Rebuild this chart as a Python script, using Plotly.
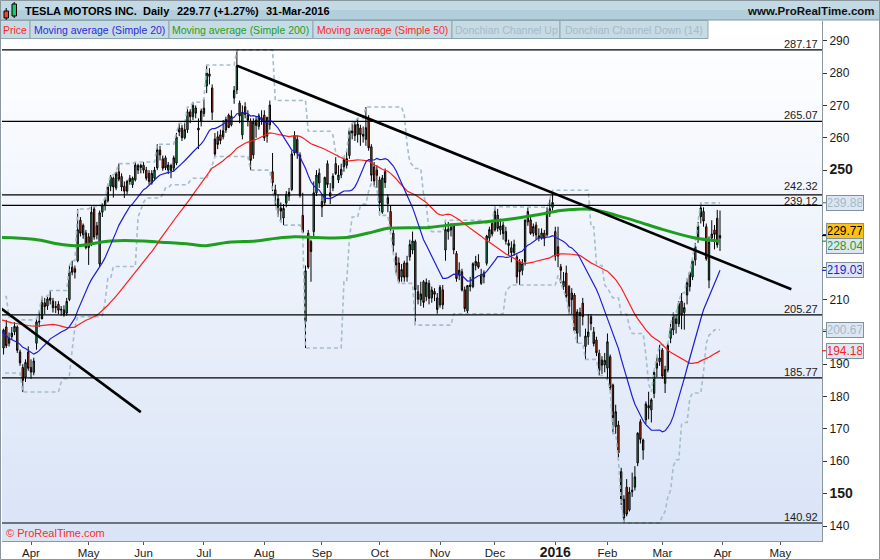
import numpy as np
import pandas as pd
import plotly.graph_objects as go

# ---------------- data ----------------
# closes before the first OHLC bar (warm-up for the moving averages), 2 Jan - 20 Feb 2015
warmup_closes = [219.31, 210.09, 211.28, 210.95, 210.62, 206.66, 202.21, 204.25, 192.69, 191.87,
                 193.07, 191.93, 196.57, 201.62, 201.29, 206.55, 205.98, 199.37, 205.20, 203.60,
                 210.94, 218.36, 218.55, 220.99, 217.36, 217.48, 216.29, 212.80, 202.88, 203.77,
                 204.35, 204.46, 211.71, 217.11]

# daily (open, high, low, close)
ohlc_2015_02 = [(215.5, 216.0, 205.5, 207.34), (207.0, 209.8, 204.5, 207.19), (206.6, 207.9, 202.5, 204.11),
                (204.0, 207.0, 201.4, 203.76), (203.5, 206.6, 202.1, 203.34)]
ohlc_2015_03 = [(203.0, 210.9, 196.5, 197.33), (197.5, 200.9, 195.0, 199.56), (200.0, 204.6, 198.5, 202.44),
                (202.8, 204.0, 199.4, 200.63), (199.2, 200.8, 192.8, 193.88), (194.4, 194.5, 188.6, 190.88),
                (188.5, 193.5, 187.5, 190.32), (191.2, 195.0, 189.9, 193.74), (193.8, 194.4, 189.7, 191.07),
                (188.9, 191.8, 187.3, 188.68), (191.0, 196.5, 190.1, 195.74), (195.4, 196.5, 193.3, 194.73),
                (195.0, 201.0, 193.0, 200.60), (201.5, 203.7, 195.0, 195.70), (196.5, 199.8, 195.5, 198.08),
                (198.5, 201.5, 197.5, 199.63), (200.0, 203.0, 199.0, 201.72), (201.5, 202.0, 193.5, 194.30),
                (193.8, 194.5, 189.5, 190.41), (189.0, 190.0, 181.4, 185.00), (186.0, 191.5, 184.5, 190.57),
                (193.8, 195.5, 188.0, 188.77)]
ohlc_2015_04 = [(189.0, 191.5, 185.5, 187.59), (187.5, 192.0, 186.6, 191.00), (196.5, 204.0, 194.5, 203.10),
                (203.0, 206.5, 201.5, 203.25), (204.0, 210.9, 204.8, 209.00), (209.0, 210.5, 205.5, 207.80),
                (208.0, 211.0, 206.8, 210.20), (210.5, 212.8, 208.5, 209.78), (209.5, 210.5, 206.0, 207.46),
                (207.5, 209.5, 205.8, 207.83), (208.5, 209.5, 205.5, 206.70), (207.0, 208.0, 205.0, 206.79),
                (206.8, 208.2, 204.7, 205.27), (205.8, 210.5, 205.0, 209.41), (210.0, 220.5, 209.5, 218.63),
                (220.0, 222.0, 217.5, 218.43), (219.5, 220.5, 216.5, 218.43), (222.0, 238.0, 221.5, 231.55),
                (234.5, 235.5, 229.5, 230.51), (230.0, 233.5, 228.8, 232.95), (230.6, 231.5, 225.5, 226.05)]
ohlc_2015_05 = [(229.4, 230.5, 220.7, 226.03), (227.0, 238.8, 226.5, 237.00), (238.0, 238.6, 228.5, 229.30),
                (232.8, 234.0, 228.6, 230.00), (221.0, 237.5, 220.2, 236.80), (237.0, 239.8, 235.5, 239.20),
                (239.0, 241.5, 237.5, 240.70), (240.5, 245.5, 240.0, 244.80), (245.0, 248.5, 243.5, 247.90),
                (247.5, 248.0, 241.5, 244.80), (244.5, 249.5, 243.8, 248.84), (249.5, 252.0, 246.5, 247.20),
                (248.0, 249.0, 243.5, 244.80), (245.0, 246.5, 241.4, 243.50), (243.5, 247.0, 242.5, 246.50),
                (247.5, 248.5, 245.5, 246.50), (245.5, 248.0, 244.5, 247.50), (247.0, 252.5, 246.5, 251.60),
                (250.0, 252.0, 248.8, 251.45), (251.5, 252.0, 249.0, 250.80)]
ohlc_2015_06 = [(251.5, 252.5, 249.0, 250.00), (250.0, 251.0, 246.8, 247.50), (249.0, 250.0, 245.5, 246.50),
                (246.0, 250.0, 245.5, 249.00), (247.5, 251.0, 246.8, 250.00), (250.7, 258.0, 250.0, 256.30),
                (256.2, 257.5, 253.0, 254.70), (253.5, 254.5, 249.8, 250.60), (253.8, 254.5, 250.0, 250.70),
                (250.0, 252.5, 248.8, 251.60), (249.8, 252.0, 247.5, 251.40), (250.6, 254.5, 249.5, 253.80),
                (252.2, 261.5, 251.5, 260.20), (263.0, 264.5, 260.5, 261.80), (263.0, 264.0, 259.0, 260.00),
                (260.0, 264.5, 259.5, 262.51), (262.5, 269.5, 261.5, 268.00), (268.0, 268.8, 264.5, 266.50),
                (266.5, 271.0, 265.5, 270.00), (269.2, 270.0, 266.0, 267.60), (263.0, 266.0, 256.5, 262.40),
                (265.0, 269.0, 263.5, 268.26)]
ohlc_2015_07 = [(267.5, 272.0, 266.5, 269.15), (276.0, 282.5, 273.8, 280.02), (279.0, 281.5, 276.5, 279.72),
                (275.4, 276.5, 265.5, 267.88), (259.6, 261.5, 254.2, 254.96), (260.3, 262.0, 256.5, 257.92),
                (260.9, 262.5, 258.0, 259.15), (260.3, 265.5, 259.5, 262.16), (262.4, 266.5, 261.5, 265.65),
                (267.0, 267.5, 263.0, 263.14), (264.0, 268.5, 263.5, 266.68), (272.3, 276.0, 270.5, 274.66),
                (274.8, 287.17, 273.5, 282.26), (270.7, 271.5, 264.5, 266.77), (260.9, 270.0, 259.5, 267.87),
                (269.6, 271.0, 266.0, 267.20), (267.0, 268.5, 263.5, 265.41), (265.0, 266.0, 250.0, 253.01),
                (254.7, 266.0, 253.5, 264.82), (265.5, 266.5, 260.0, 263.82), (263.5, 267.5, 262.5, 266.79),
                (265.5, 268.5, 264.0, 266.15)]
ohlc_2015_08 = [(267.0, 268.5, 259.0, 259.99), (260.5, 266.5, 258.5, 266.28), (264.0, 271.5, 262.5, 270.13),
                (249.5, 255.3, 243.5, 246.13), (243.9, 245.5, 239.0, 242.51), (238.5, 242.5, 235.5, 241.14),
                (238.3, 240.0, 234.0, 237.37), (235.2, 239.5, 233.0, 238.17), (239.8, 243.5, 238.5, 242.51),
                (242.0, 244.5, 240.5, 243.15), (244.0, 256.0, 243.5, 254.99), (255.3, 262.0, 254.5, 260.72),
                (259.5, 260.8, 253.5, 255.25), (254.7, 255.5, 241.5, 242.18), (236.0, 243.0, 230.5, 230.77),
                (203.2, 220.5, 195.0, 218.87), (230.5, 231.5, 219.5, 220.03), (227.9, 228.5, 215.5, 224.84),
                (231.0, 246.5, 229.0, 242.99), (243.0, 250.0, 242.0, 248.48), (246.0, 250.5, 244.5, 249.06)]
ohlc_2015_09 = [(240.3, 242.5, 235.5, 238.63), (240.0, 248.0, 239.0, 247.69), (252.0, 253.0, 244.5, 245.57),
                (243.0, 246.0, 239.5, 241.93), (244.5, 249.0, 243.5, 248.17), (252.0, 254.0, 248.5, 248.91),
                (247.0, 251.5, 246.0, 248.48), (248.5, 252.0, 247.5, 250.24), (251.0, 254.0, 249.5, 253.19),
                (251.5, 256.0, 250.5, 253.57), (254.5, 263.0, 253.5, 262.25), (261.5, 264.5, 259.5, 262.07),
                (264.0, 265.0, 259.0, 260.62), (261.0, 266.0, 258.5, 264.20), (263.0, 264.0, 257.5, 260.94),
                (260.5, 263.5, 258.5, 261.06), (259.5, 269.5, 257.5, 263.12), (266.0, 267.0, 256.0, 256.91),
                (257.2, 258.0, 246.5, 248.43), (251.0, 252.5, 245.0, 246.65), (250.0, 251.5, 244.5, 248.40)]
ohlc_2015_10 = [(247.0, 248.0, 236.0, 239.88), (237.0, 248.5, 236.5, 247.57), (249.5, 250.5, 244.5, 246.15),
                (239.7, 242.5, 237.0, 241.46), (237.2, 239.0, 230.5, 231.96), (230.5, 231.5, 224.5, 226.72),
                (223.2, 224.5, 218.0, 220.69), (221.3, 223.0, 215.0, 215.58), (217.0, 221.0, 215.5, 219.25),
                (221.3, 222.0, 215.5, 216.88), (217.0, 223.5, 215.5, 221.31), (223.2, 228.5, 222.0, 227.01),
                (225.3, 231.0, 224.0, 228.10), (227.9, 228.5, 202.1, 213.03), (212.4, 214.5, 208.5, 210.09),
                (209.9, 215.5, 208.0, 211.72), (215.5, 216.0, 207.5, 209.09), (210.9, 216.5, 209.5, 215.26),
                (215.0, 216.0, 208.5, 210.35), (210.5, 214.0, 209.0, 212.96), (212.5, 213.5, 209.5, 211.63),
                (210.5, 212.0, 205.6, 206.93)]
ohlc_2015_11 = [(208.3, 214.5, 207.5, 213.79), (213.0, 214.5, 207.0, 208.35), (225.3, 234.5, 222.0, 231.63),
                (231.0, 234.0, 228.5, 231.77), (231.5, 233.5, 229.5, 232.36), (233.0, 233.5, 224.0, 225.33),
                (224.2, 225.0, 215.5, 216.50), (217.5, 221.5, 216.0, 219.08), (218.6, 219.5, 212.5, 212.94),
                (213.0, 214.0, 206.2, 207.19), (206.5, 214.5, 205.6, 214.31), (214.5, 217.0, 212.5, 214.00),
                (214.0, 221.5, 213.5, 221.07), (220.5, 223.5, 219.0, 221.80), (221.5, 224.0, 219.5, 220.01),
                (215.0, 219.5, 214.5, 217.75), (217.0, 219.0, 215.0, 218.25), (221.2, 230.0, 220.5, 229.64),
                (229.0, 232.5, 228.0, 231.61), (233.5, 234.5, 229.5, 230.26)]
ohlc_2015_12 = [(231.5, 238.7, 231.0, 237.19), (236.1, 238.0, 231.0, 231.99), (231.5, 235.0, 230.0, 232.71),
                (233.0, 234.0, 228.5, 230.38), (231.0, 232.5, 227.0, 228.00), (227.4, 228.5, 223.5, 226.72),
                (226.0, 228.0, 221.5, 224.52), (224.5, 228.5, 223.5, 227.07), (223.2, 224.0, 215.0, 217.02),
                (221.7, 222.5, 214.5, 218.58), (219.0, 222.5, 217.5, 221.09), (221.7, 234.8, 220.5, 234.51),
                (234.0, 238.5, 232.8, 237.20), (234.6, 235.5, 230.0, 230.46), (230.5, 233.5, 229.5, 232.56),
                (233.0, 234.0, 228.5, 229.95), (229.0, 232.0, 228.0, 229.70), (229.0, 232.0, 228.5, 230.57),
                (230.5, 231.5, 226.5, 228.95), (230.0, 238.5, 229.5, 237.19), (236.5, 241.0, 235.5, 238.09),
                (238.5, 243.8, 237.5, 240.01)]
ohlc_2016_01 = [(231.0, 232.5, 222.0, 223.41), (226.3, 232.5, 220.0, 223.43), (220.1, 221.0, 215.0, 219.04),
                (214.0, 218.5, 213.0, 215.65), (218.2, 220.5, 210.5, 211.00), (214.0, 214.5, 205.5, 207.85),
                (212.0, 213.5, 205.5, 209.97), (211.4, 212.0, 200.0, 200.31), (199.6, 207.0, 196.5, 206.18),
                (206.0, 207.5, 198.5, 204.99), (208.9, 210.5, 202.0, 204.72), (195.5, 201.0, 191.5, 198.70),
                (198.5, 205.5, 196.0, 199.97), (204.7, 205.5, 200.5, 202.55), (200.0, 201.5, 195.5, 196.38),
                (197.5, 198.5, 192.5, 193.56), (193.4, 194.5, 186.5, 188.07), (191.3, 192.5, 187.0, 189.70),
                (189.8, 193.5, 187.5, 191.20)]
ohlc_2016_02 = [(188.8, 199.5, 185.1, 196.94), (192.3, 193.0, 182.0, 182.78), (183.6, 184.0, 168.5, 173.48),
                (170.7, 177.5, 168.5, 175.33), (171.2, 172.5, 160.5, 162.60), (156.8, 158.0, 146.5, 147.99),
                (142.5, 149.5, 140.92, 148.25), (152.0, 154.5, 143.0, 143.67), (145.0, 152.0, 144.5, 150.47),
                (150.6, 156.5, 149.0, 151.04), (152.0, 158.5, 151.0, 155.17), (159.5, 169.0, 158.5, 168.68),
                (172.2, 173.0, 165.5, 166.77), (163.5, 167.0, 160.5, 166.58), (172.8, 178.5, 171.5, 177.74),
                (176.5, 181.5, 173.0, 177.21), (175.9, 179.5, 172.0, 179.00), (181.0, 188.0, 179.5, 187.43),
                (188.8, 192.5, 186.0, 190.34), (190.8, 196.0, 189.5, 191.93)]
ohlc_2016_03 = [(194.4, 195.0, 185.5, 186.35), (184.1, 189.5, 181.1, 188.34), (188.2, 196.5, 187.5, 195.74),
                (198.0, 202.5, 196.5, 201.04), (200.6, 206.0, 199.0, 205.29), (204.0, 205.5, 199.5, 202.60),
                (202.5, 209.5, 201.5, 208.72), (209.5, 212.0, 200.8, 205.18), (206.0, 209.0, 200.67, 207.50),
                (211.4, 216.5, 208.5, 215.15), (214.0, 218.5, 212.5, 218.34), (217.0, 222.5, 216.0, 221.93),
                (222.2, 227.5, 220.5, 226.38), (228.9, 234.0, 227.5, 232.74), (235.6, 239.88, 233.5, 238.32),
                (237.2, 238.5, 232.5, 234.24), (232.5, 233.5, 222.0, 222.58), (216.0, 229.5, 213.5, 227.75),
                (229.0, 234.5, 228.0, 230.26), (231.5, 233.0, 225.5, 230.13), (235.1, 237.7, 226.0, 226.89),
                (229.0, 237.5, 225.0, 229.77)]

# 200-day moving average
ma200_dates = ["2015-03-17", "2015-04-02", "2015-04-20", "2015-04-27", "2015-05-13", "2015-06-01",
               "2015-06-08", "2015-06-24", "2015-07-01", "2015-07-15", "2015-07-29", "2015-08-07",
               "2015-08-18", "2015-08-27", "2015-09-15", "2015-09-29", "2015-10-06", "2015-10-27",
               "2015-11-05", "2015-11-20", "2015-12-08", "2015-12-22", "2016-01-06", "2016-01-14",
               "2016-01-22", "2016-02-04", "2016-02-17", "2016-03-01", "2016-03-16", "2016-03-31"]
ma200_values = [229.2, 228.6, 226.9, 226.6, 228.1, 228.1, 227.8, 227.1, 226.6, 227.7, 228.1, 228.9,
                229.4, 229.2, 229.2, 231.0, 232.0, 232.3, 233.0, 233.8, 234.8, 236.1, 237.5, 237.9,
                237.9, 236.1, 234.1, 231.7, 229.2, 228.04]

levels = [287.17, 265.07, 242.32, 239.12, 205.27, 185.77, 140.92]
trend_a = [("2015-07-20", 282.3), ("2016-05-06", 213.2)]
trend_b = [("2015-03-17", 207.3), ("2015-05-29", 175.2)]

month_keys = ["2015-04", "2015-05", "2015-06", "2015-07", "2015-08", "2015-09", "2015-10",
              "2015-11", "2015-12", "2016-01", "2016-02", "2016-03", "2016-04", "2016-05"]
month_labels = ["Apr", "May", "Jun", "Jul", "Aug", "Sep", "Oct", "Nov", "Dec", "2016",
                "Feb", "Mar", "Apr", "May"]
y_ticks = [140, 150, 160, 170, 180, 190, 200, 210, 220, 230, 240, 250, 260, 270, 280, 290]
y_hidden = [200, 220, 230, 240]   # covered by the value boxes in the reference

holidays = ["2015-01-01", "2015-01-19", "2015-02-16", "2015-04-03", "2015-05-25", "2015-07-03",
            "2015-09-07", "2015-11-26", "2015-12-25", "2016-01-01", "2016-01-18", "2016-02-15",
            "2016-03-25", "2016-05-30"]

# ---------------- trading-day axis ----------------
days = pd.bdate_range("2015-01-02", "2016-06-30", freq="C", holidays=holidays)
origin = days.get_loc(pd.Timestamp("2015-04-01"))


def idx_of(d):
    return days.get_loc(pd.Timestamp(d)) - origin


blocks = [ohlc_2015_02, ohlc_2015_03, ohlc_2015_04, ohlc_2015_05, ohlc_2015_06, ohlc_2015_07,
          ohlc_2015_08, ohlc_2015_09, ohlc_2015_10, ohlc_2015_11, ohlc_2015_12, ohlc_2016_01,
          ohlc_2016_02, ohlc_2016_03]
ohlc = np.array([row for b in blocks for row in b], dtype=float)
n_w = len(warmup_closes)
closes = np.concatenate([np.array(warmup_closes), ohlc[:, 3]])
assert days[len(closes) - 1] == pd.Timestamp("2016-03-31"), days[len(closes) - 1]
x_all = np.arange(len(closes)) - origin
x_ohlc = x_all[n_w:]

ma20 = pd.Series(closes).rolling(20).mean().values
ma50 = pd.Series(closes).rolling(50).mean().values
dc_up = pd.Series(ohlc[:, 1]).rolling(14, min_periods=1).max().values
dc_dn = pd.Series(ohlc[:, 2]).rolling(14, min_periods=1).min().values

vis = x_all >= -12
vis_o = x_ohlc >= -12

tick_x = []
for k in month_keys:
    first = [i for i, d in enumerate(days) if d.strftime("%Y-%m") == k][0]
    tick_x.append(first - origin)
tick_text = ["<b><span style='font-size:14px'>%s</span></b>" % t if t == "2016" else t for t in month_labels]
y_text = []
for v in y_ticks:
    if v in y_hidden:
        y_text.append("")
    elif v in (150, 250):
        y_text.append("<b><span style='font-size:14px'>%d</span></b>" % v)
    else:
        y_text.append(str(v))

# ---------------- pixel helpers ----------------
L, R, T, B = 2, 822, 21, 541
W, H = R - L, B - T


def px(x):
    return (x - L) / W


def py(y):
    return (B - y) / H


FONT = "Liberation Sans, Arial, sans-serif"

fig = go.Figure()
fig.add_trace(go.Scatter(x=x_ohlc[vis_o], y=dc_up[vis_o], mode="lines", hoverinfo="skip",
                         line=dict(color="#a6bdca", width=1.6, dash="4px,3px")))
fig.add_trace(go.Scatter(x=x_ohlc[vis_o], y=dc_dn[vis_o], mode="lines", hoverinfo="skip",
                         line=dict(color="#a6bdca", width=1.6, dash="4px,3px")))
fig.add_trace(go.Scatter(x=[idx_of(d) for d in ma200_dates], y=ma200_values, mode="lines",
                         hoverinfo="skip", line=dict(color="#1e9e1e", width=3, shape="spline")))
fig.add_trace(go.Scatter(x=x_all[vis], y=ma50[vis], mode="lines", hoverinfo="skip",
                         line=dict(color="#ff1e1e", width=1.2)))
fig.add_trace(go.Scatter(x=x_all[vis], y=ma20[vis], mode="lines", hoverinfo="skip",
                         line=dict(color="#1e1ed2", width=1.2)))
fig.add_trace(go.Candlestick(x=x_ohlc[vis_o], open=ohlc[vis_o, 0], high=ohlc[vis_o, 1],
                             low=ohlc[vis_o, 2], close=ohlc[vis_o, 3], whiskerwidth=0,
                             increasing=dict(fillcolor="#20c56c", line=dict(color="#000000", width=1)),
                             decreasing=dict(fillcolor="#f2441d", line=dict(color="#000000", width=1)),
                             hoverinfo="skip"))

shapes = []
annots = []
# background gradient of the plot area
nb = 40
for i in range(nb):
    t = i / (nb - 1)
    r = int(round(217 + (255 - 217) * t))
    g = int(round(228 + (255 - 228) * t))
    b = int(round(247 + (255 - 247) * t))
    shapes.append(dict(type="rect", xref="paper", yref="paper", x0=0, x1=1, y0=i / nb, y1=(i + 1) / nb,
                       fillcolor="rgb(%d,%d,%d)" % (r, g, b), line=dict(width=0), layer="below"))

# horizontal levels
label_shift = {242.32: 1.5, 239.12: -2.5}
for lv in levels:
    shapes.append(dict(type="line", xref="paper", yref="y", x0=0, x1=1, y0=lv, y1=lv,
                       line=dict(color="#000000", width=1.2)))
    annots.append(dict(xref="paper", yref="y", x=px(819), y=lv, text="%.2f" % lv, showarrow=False,
                       xanchor="right", yanchor="bottom", yshift=label_shift.get(lv, -1), borderpad=0,
                       font=dict(family=FONT, size=11, color="#1a1a1a")))

# trend lines
for tl in (trend_a, trend_b):
    shapes.append(dict(type="line", xref="x", yref="y", x0=idx_of(tl[0][0]), y0=tl[0][1],
                       x1=idx_of(tl[1][0]), y1=tl[1][1], line=dict(color="#000000", width=2.6)))

# title bar
shapes.append(dict(type="rect", xref="paper", yref="paper", x0=px(0), x1=px(880), y0=py(10), y1=py(0),
                   fillcolor="#c3d9e4", line=dict(width=0)))
shapes.append(dict(type="rect", xref="paper", yref="paper", x0=px(0), x1=px(880), y0=py(20), y1=py(10),
                   fillcolor="#b2cedb", line=dict(width=0)))
shapes.append(dict(type="line", xref="paper", yref="paper", x0=px(0), x1=px(880), y0=py(20), y1=py(20),
                   line=dict(color="#7f97a4", width=1)))
# candle icon
shapes.append(dict(type="line", xref="paper", yref="paper", x0=px(6.2), x1=px(6.2), y0=py(20), y1=py(8),
                   line=dict(color="#000", width=1)))
shapes.append(dict(type="rect", xref="paper", yref="paper", x0=px(4), x1=px(8.5), y0=py(18), y1=py(11),
                   fillcolor="#f2441d", line=dict(color="#000", width=1)))
shapes.append(dict(type="line", xref="paper", yref="paper", x0=px(14.2), x1=px(14.2), y0=py(18), y1=py(2),
                   line=dict(color="#000", width=1)))
shapes.append(dict(type="rect", xref="paper", yref="paper", x0=px(12), x1=px(16.5), y0=py(16), y1=py(4),
                   fillcolor="#20c56c", line=dict(color="#000", width=1)))

title_parts = [(23, "TESLA MOTORS INC."), (141, "Daily"), (175, "229.77 (+1.27%)"), (264, "31-Mar-2016")]
for x0, txt in title_parts:
    annots.append(dict(xref="paper", yref="paper", x=px(x0), y=py(10.5), text="<b>%s</b>" % txt,
                       showarrow=False, xanchor="left", yanchor="middle",
                       font=dict(family=FONT, size=11, color="#000000")))
annots.append(dict(xref="paper", yref="paper", x=px(877), y=py(10.5), text="<b>www.ProRealTime.com</b>",
                   showarrow=False, xanchor="right", yanchor="middle",
                   font=dict(family=FONT, size=11.5, color="#111111")))

# legend row
legend_items = [(0, 30, "Price", "#ff2a2a"), (30, 169, "Moving average (Simple 20)", "#2a2ad8"),
                (169, 313, "Moving average (Simple 200)", "#1e9e1e"),
                (313, 452, "Moving average (Simple 50)", "#ff2a2a"),
                (452, 560, "Donchian Channel Up", "#a3bac6"),
                (560, 708, "Donchian Channel Down (14)", "#a3bac6")]
for x0, x1, txt, col in legend_items:
    shapes.append(dict(type="rect", xref="paper", yref="paper", x0=px(x0), x1=px(x1), y0=py(38.5), y1=py(20.5),
                       fillcolor="#c7dbe5", line=dict(color="#8ea6b2", width=1)))
    annots.append(dict(xref="paper", yref="paper", x=px((x0 + x1) / 2), y=py(29.5), text=txt,
                       showarrow=False, xanchor="center", yanchor="middle",
                       font=dict(family=FONT, size=10.5, color=col)))

annots.append(dict(xref="paper", yref="paper", x=px(4), y=py(533), text="© ProRealTime.com",
                   showarrow=False, xanchor="left", yanchor="middle",
                   font=dict(family=FONT, size=11, color="#ff2a2a")))

# value boxes on the price axis
last_close = ohlc[-1, 3]
boxes = [(dc_up[-1], "#a3bac6", "#dde7f3", 0),
         (last_close, "#000000", "#ffc20e", 5),
         (ma200_values[-1], "#1e9e1e", "#dde7f3", -4.5),
         (ma20[-1], "#1e1ed2", "#dde7f3", 0),
         (dc_dn[-1], "#a3bac6", "#dde7f3", 0),
         (ma50[-1], "#ff1e1e", "#dde7f3", 0)]
for val, tcol, bg, ys in boxes:
    shapes.append(dict(type="line", xref="paper", yref="y", x0=px(822), x1=px(826), y0=val, y1=val,
                       line=dict(color=tcol if tcol != "#a3bac6" else "#8ea6b2", width=1.2)))
    annots.append(dict(xref="paper", yref="y", x=px(845.5), y=val, text="%.2f" % val, showarrow=False,
                       xanchor="center", yanchor="middle", yshift=ys, width=34, height=12,
                       bgcolor=bg, bordercolor="#7f929c", borderwidth=1, borderpad=1,
                       font=dict(family=FONT, size=12, color=tcol)))

# outer frame
shapes.append(dict(type="rect", xref="paper", yref="paper", x0=px(0.5), x1=px(879.5), y0=py(559.5), y1=py(0.5),
                   line=dict(color="#8a979f", width=1), fillcolor="rgba(0,0,0,0)"))

fig.update_layout(
    width=880, height=560, margin=dict(l=L, r=880 - R, t=T, b=560 - B, autoexpand=False),
    paper_bgcolor="#ffffff", plot_bgcolor="#ffffff", showlegend=False,
    shapes=shapes, annotations=annots, hovermode=False,
    font=dict(family=FONT, size=12, color="#1a1a1a"),
    xaxis=dict(range=[(L - 31) / 2.745, (R - 31) / 2.745], tickvals=tick_x, ticktext=tick_text,
               ticks="outside", ticklen=3, tickcolor="#555", showgrid=False, zeroline=False,
               showline=True, linecolor="#8a979f", rangeslider=dict(visible=False), automargin=False,
               ticklabelstandoff=-2,
               tickfont=dict(family=FONT, size=11.5, color="#1a1a1a")),
    yaxis=dict(range=[140 - (B - 526) / 3.2353, 140 + (526 - T) / 3.2353], side="right",
               tickvals=y_ticks, ticktext=y_text, ticks="outside", ticklen=4, tickcolor="#333",
               showgrid=False, zeroline=False, showline=True, linecolor="#8a979f", automargin=False,
               tickfont=dict(family=FONT, size=12, color="#1a1a1a")),
)

fig.write_html("out.html", config={"displayModeBar": False},
               post_script="document.body.style.margin='0px';document.body.style.overflow='hidden';")
